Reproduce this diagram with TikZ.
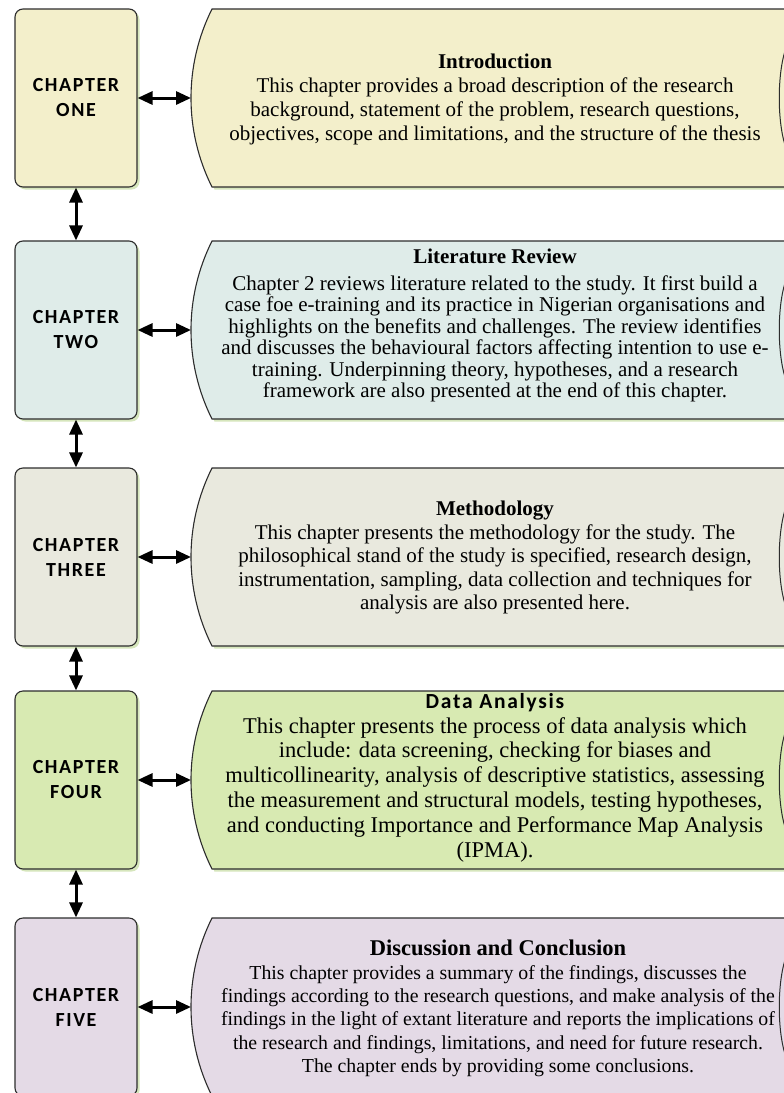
\documentclass[tikz,border=0pt]{standalone}
\usepackage{fontspec}
\setmainfont{Liberation Serif}
\newfontfamily\chapfont[LetterSpace=8]{Carlito}
\usetikzlibrary{arrows.meta,shadows}
\definecolor{cA}{RGB}{243,239,203}
\definecolor{cB}{RGB}{223,236,233}
\definecolor{cC}{RGB}{233,233,222}
\definecolor{cD}{RGB}{216,234,178}
\definecolor{cE}{RGB}{228,218,230}
\definecolor{edgec}{RGB}{45,45,45}
\definecolor{shadowc}{RGB}{214,230,188}
\newcommand\chaplabel{\chapfont\bfseries\fontsize{20}{25}\selectfont}
% #1 top (positive, downwards), #2 fill colour, #3 name of the left-tip coordinate
\newcommand\drawdesc[3]{%
  \pgfmathsetmacro\dT{-#1}%
  \pgfmathsetmacro\dM{-#1-89}%
  \pgfmathsetmacro\dB{-#1-178}%
  \draw[descshape, fill=#2] (800,\dT) -- (212,\dT)
     arc[start angle=153.43, end angle=206.57, radius=199] -- (800,\dB);
  \coordinate (#3) at (191,\dM);
  \draw[edgec, line width=1pt] (786,\dM+50) .. controls (777,\dM+25) and (777,\dM-25) .. (786,\dM-50);
}
\begin{document}
\begin{tikzpicture}[x=1pt,y=1pt,
  chapbox/.style={draw=edgec, line width=1.1pt, rounded corners=8pt,
    minimum width=122pt, minimum height=178pt, inner sep=0pt, align=center,
    font=\chaplabel,
    general shadow={shadow xshift=2.5pt, shadow yshift=-2.5pt, fill=shadowc}},
  descshape/.style={draw=edgec, line width=1.1pt,
    general shadow={shadow xshift=2.5pt, shadow yshift=-2.5pt, fill=shadowc}},
  link/.style={line width=3pt,
    {Triangle[length=15pt,width=13pt]}-{Triangle[length=15pt,width=13pt]}},
  desc/.style={align=center, inner sep=0pt, text=black}
]
\useasboundingbox (0,0) rectangle (784,-1093);
\clip (0,0) rectangle (784,-1093);
\fill[white] (0,0) rectangle (784,-1093);

% left chapter boxes
\node[chapbox, fill=cA] (ch1) at (76,-98)   {CHAPTER\\ONE};
\node[chapbox, fill=cB] (ch2) at (76,-330)  {CHAPTER\\TWO};
\node[chapbox, fill=cC] (ch3) at (76,-557)  {CHAPTER\\THREE};
\node[chapbox, fill=cD] (ch4) at (76,-780)  {CHAPTER\\FOUR};
\node[chapbox, fill=cE] (ch5) at (76,-1007) {CHAPTER\\FIVE};

% description shapes
\drawdesc{9}{cA}{d1}
\drawdesc{241}{cB}{d2}
\drawdesc{468}{cC}{d3}
\drawdesc{691}{cD}{d4}
\drawdesc{918}{cE}{d5}

% texts
\node[desc, font=\fontsize{21}{24}\selectfont] (t1) at (495,-99)
 {\textbf{Introduction}\\
  This chapter provides a broad description of the research\\
  background, statement of the problem, research questions,\\
  objectives, scope and limitations, and the structure of the thesis};

\node[desc, font=\fontsize{21}{21.5}\selectfont] (t2) at (495,-325.5)
 {\textbf{Literature Review}\\[5.5pt]
  Chapter 2 reviews literature related to the study. It first build a\\
  case foe e-training and its practice in Nigerian organisations and\\
  highlights on the benefits and challenges. The review identifies\\
  and discusses the behavioural factors affecting intention to use e-\\
  training. Underpinning theory, hypotheses, and a research\\
  framework are also presented at the end of this chapter.};

\node[desc, font=\fontsize{21}{23.5}\selectfont] (t3) at (495,-557.5)
 {\textbf{Methodology}\\
  This chapter presents the methodology for the study. The\\
  philosophical stand of the study is specified, research design,\\
  instrumentation, sampling, data collection and techniques for\\
  analysis are also presented here.};

\node[desc, font=\fontsize{22.5}{24.8}\selectfont] (t4) at (495,-777.5)
 {{\chapfont\bfseries\fontsize{21.5}{24.8}\selectfont Data Analysis}\\
  This chapter presents the process of data analysis which\\
  include: data screening, checking for biases and\\
  multicollinearity, analysis of descriptive statistics, assessing\\
  the measurement and structural models, testing hypotheses,\\
  and conducting Importance and Performance Map Analysis\\
  (IPMA).};

\node[desc, font=\fontsize{19.8}{23.3}\selectfont] (t5) at (498,-1008.5)
 {{\bfseries\fontsize{22.5}{23.3}\selectfont Discussion and Conclusion}\\
  This chapter provides a summary of the findings, discusses the\\
  findings according to the research questions, and make analysis of the\\
  findings in the light of extant literature and reports the implications of\\
  the research and findings, limitations, and need for future research.\\
  The chapter ends by providing some conclusions.};

% connectors
\draw[link] (ch1.east) -- (d1);
\draw[link] (ch2.east) -- (d2);
\draw[link] (ch3.east) -- (d3);
\draw[link] (ch4.east) -- (d4);
\draw[link] (ch5.east) -- (d5);
\draw[link] (ch1.south) -- (ch2.north);
\draw[link] (ch2.south) -- (ch3.north);
\draw[link] (ch3.south) -- (ch4.north);
\draw[link] (ch4.south) -- (ch5.north);
\end{tikzpicture}
\end{document}
